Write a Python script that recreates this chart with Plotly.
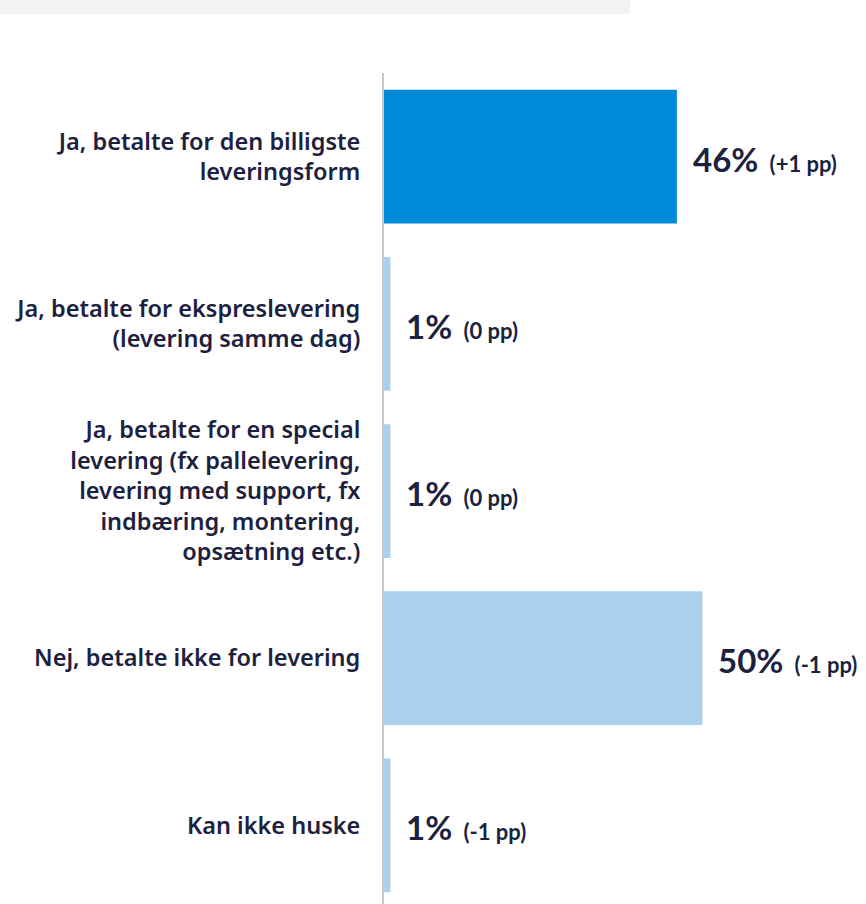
import plotly.graph_objects as go

# Survey answers (top to bottom) and their shares in percent
categories = [
    "Ja, betalte for den billigste<br>leveringsform",
    "Ja, betalte for ekspreslevering<br>(levering samme dag)",
    "Ja, betalte for en special<br>levering (fx pallelevering,<br>levering med support, fx<br>indbæring, montering,<br>opsætning etc.)",
    "Nej, betalte ikke for levering",
    "Kan ikke huske",
]
shares = [46, 1, 1, 50, 1]
changes = ["(+1 pp)", "(0 pp)", "(0 pp)", "(-1 pp)", "(-1 pp)"]

DARK = "#1d2140"
bar_colors = ["#008ad8"] + ["#abd0ed"] * 4

fig = go.Figure(
    go.Bar(
        x=shares,
        y=categories,
        orientation="h",
        width=0.8,
        marker=dict(color=bar_colors, line=dict(width=0)),
        hoverinfo="skip",
    )
)

# Value label plus change versus previous wave, right of each bar
for cat, val, chg in zip(categories, shares, changes):
    fig.add_annotation(
        x=val,
        y=cat,
        xref="x",
        yref="y",
        xanchor="left",
        yanchor="middle",
        xshift=14,
        yshift=-2,
        showarrow=False,
        text=(
            f"<b>{val}%</b>"
            f"<span style='font-size:22px;color:#16243f'>&nbsp;&nbsp;<b>{chg}</b></span>"
        ),
        font=dict(family="Lato", size=33, color=DARK),
    )

# Light grey header band at the top of the page
fig.add_shape(
    type="rect",
    xref="paper",
    yref="paper",
    x0=-384 / 482,
    x1=(630 - 384) / 482,
    y0=1 + 59 / 831,
    y1=1 + 80 / 831,
    fillcolor="#f2f2f2",
    line=dict(width=0),
    layer="below",
)

fig.update_layout(
    width=866,
    height=904,
    margin=dict(l=384, r=0, t=73, b=0),
    paper_bgcolor="white",
    plot_bgcolor="white",
    showlegend=False,
    font=dict(family="Lato", color=DARK),
    xaxis=dict(
        range=[0, 75.7],
        visible=False,
        fixedrange=True,
    ),
    yaxis=dict(
        type="category",
        range=[4.47, -0.5],
        showline=True,
        linecolor="#c8c8c8",
        linewidth=2,
        showgrid=False,
        zeroline=False,
        ticks="",
        ticklabelstandoff=17,
        tickfont=dict(family="Noto Sans", size=23.5, color=DARK, weight=600),
        fixedrange=True,
    ),
)

fig.write_html("out.html")
